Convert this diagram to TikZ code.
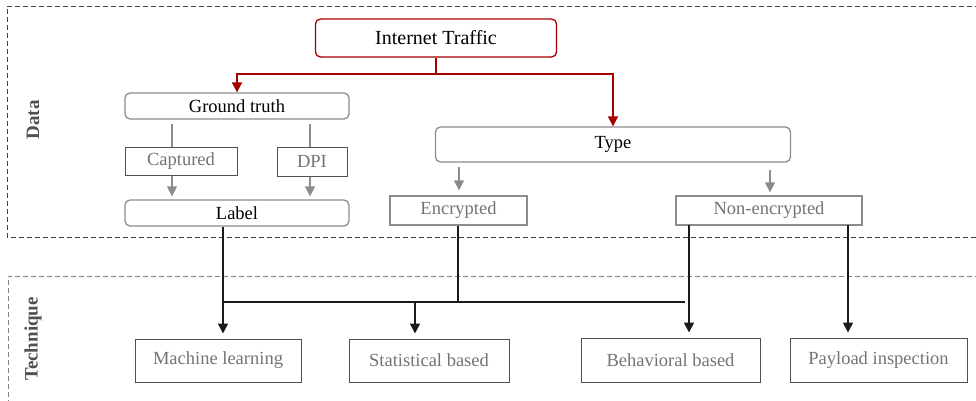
\documentclass[tikz,border=0pt]{standalone}
\usepackage{fontspec}
\setmainfont{Liberation Serif}
\usetikzlibrary{arrows.meta}
\definecolor{dred}{HTML}{A50000}
\definecolor{boxgray}{HTML}{8C8C8C}
\definecolor{txtgray}{HTML}{737373}
\definecolor{dkgray}{HTML}{505050}
\definecolor{lnblack}{HTML}{1A1A1A}
\tikzset{
  rbox/.style={draw=boxgray, line width=1.3pt, rounded corners=5pt, inner sep=0pt, font=\fontsize{18.5}{20}\selectfont, text=black},
  sbox/.style={draw=dkgray, line width=1pt, inner sep=0pt, font=\fontsize{18.5}{20}\selectfont, text=txtgray},
  tbox/.style={draw=boxgray, line width=1.3pt, inner sep=0pt, font=\fontsize{18.5}{20}\selectfont, text=txtgray},
  bbox/.style={draw=dkgray, line width=1pt, inner sep=0pt, font=\fontsize{18.5}{20}\selectfont, text=txtgray},
  redln/.style={draw=dred, line width=1.8pt},
  grayln/.style={draw=boxgray, line width=1.4pt},
  blkln/.style={draw=lnblack, line width=1.6pt},
  tipa/.style={-{Triangle[length=10pt,width=10pt]}},
  frame/.style={dash pattern=on 5pt off 3pt, line width=0.9pt},
  sidelabel/.style={rotate=90, font=\bfseries\fontsize{19}{21}\selectfont, text=dkgray}
}
\begin{document}
\begin{tikzpicture}[x=1pt,y=-1pt]
\useasboundingbox (0,0) rectangle (976,401);
% frames
\draw[frame, draw=black!75] (980,6) -- (7,6) -- (7,237) -- (980,237);
\draw[frame, draw=black!50] (980,276) -- (8,276) -- (8,405);
\node[sidelabel] (data) at (33,120) {Data};
\node[sidelabel] (tech) at (33,339) {Technique};
% nodes
\node[rbox, draw=dred, minimum width=241pt, minimum height=38pt, font=\fontsize{20}{22}\selectfont] (it) at (436,38) {Internet Traffic};
\node[rbox, minimum width=224pt, minimum height=26pt] (gt) at (237,106) {Ground truth};
\node[sbox, minimum width=112pt, minimum height=28pt] (cap) at (181,161) {Captured};
\node[sbox, minimum width=70pt, minimum height=29pt] (dpi) at (312,161.5) {DPI};
\node[rbox, minimum width=224pt, minimum height=26pt] (lab) at (237,213) {Label};
\node[rbox, minimum width=355pt, minimum height=35pt] (type) at (613,144.5) {Type};
\node[tbox, minimum width=137pt, minimum height=29pt] (enc) at (458.5,210.5) {Encrypted};
\node[tbox, minimum width=186pt, minimum height=29pt] (non) at (769,210.5) {Non-encrypted};
\node[bbox, minimum width=166pt, minimum height=43pt] (ml) at (218,360.5) {Machine learning};
\node[bbox, minimum width=160pt, minimum height=43pt] (stat) at (429,360.5) {Statistical based};
\node[bbox, minimum width=179pt, minimum height=44pt] (beh) at (670.5,360) {Behavioral based};
\node[bbox, minimum width=177pt, minimum height=44pt] (pay) at (878.5,360) {Payload inspection};
% red connectors
\coordinate (rj) at (436,74);
\draw[redln] (it.south) -- (rj);
\draw[redln, tipa] (rj) -| (gt.north);
\draw[redln, tipa] (rj) -| (type.north);
% gray connectors
\coordinate (c1) at (172,124);
\coordinate (c2) at (310,124);
\draw[grayln] (c1) -- (c1 |- cap.north);
\draw[grayln, tipa, shorten >=3pt] (c1 |- cap.south) -- (c1 |- lab.north);
\draw[grayln] (c2) -- (c2 |- dpi.north);
\draw[grayln, tipa, shorten >=3pt] (c2 |- dpi.south) -- (c2 |- lab.north);
\coordinate (t1) at (459,167);
\coordinate (t2) at (770,170);
\draw[grayln, tipa, shorten >=5pt] (t1) -- (t1 |- enc.north);
\draw[grayln, tipa, shorten >=3pt] (t2) -- (t2 |- non.north);
% black connectors
\coordinate (bl) at (223,302);
\coordinate (br) at (685,302);
\coordinate (be) at (458,302);
\coordinate (bs) at (415,302);
\coordinate (nb1) at (689,225);
\coordinate (nb2) at (848,225);
\draw[blkln, tipa, shorten >=5pt] (bl |- lab.south) -- (bl |- ml.north);
\draw[blkln] (bl) -- (br);
\draw[blkln] (be |- enc.south) -- (be);
\draw[blkln, tipa, shorten >=5pt] (bs) -- (bs |- stat.north);
\draw[blkln, tipa, shorten >=5pt] (nb1) -- (nb1 |- beh.north);
\draw[blkln, tipa, shorten >=5pt] (nb2) -- (nb2 |- pay.north);
\end{tikzpicture}
\end{document}
